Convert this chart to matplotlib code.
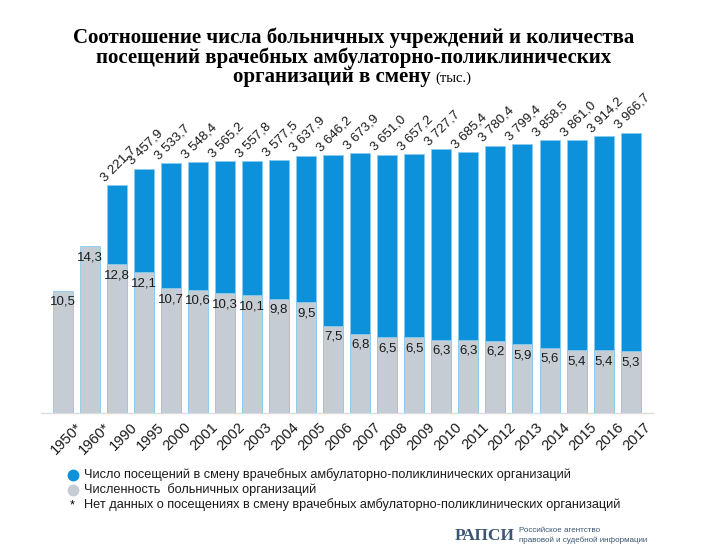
import numpy as np
import matplotlib
matplotlib.use('Agg')
import matplotlib.pyplot as plt
import matplotlib.transforms as mtransforms
from matplotlib.lines import Line2D

years = ['1950*', '1960*', '1990', '1995', '2000', '2001', '2002', '2003', '2004', '2005',
         '2006', '2007', '2008', '2009', '2010', '2011', '2012', '2013', '2014', '2015',
         '2016', '2017']
# посещения в смену, тыс. (для 1950 и 1960 данных нет)
visits = [None, None, 3221.7, 3457.9, 3533.7, 3548.4, 3565.2, 3557.8, 3577.5, 3637.9,
          3646.2, 3673.9, 3651.0, 3657.2, 3727.7, 3685.4, 3780.4, 3799.4, 3858.5, 3861.0,
          3914.2, 3966.7]
# больничные организации, тыс.
hospitals = [10.5, 14.3, 12.8, 12.1, 10.7, 10.6, 10.3, 10.1, 9.8, 9.5, 7.5, 6.8, 6.5, 6.5,
             6.3, 6.3, 6.2, 5.9, 5.6, 5.4, 5.4, 5.3]

blue = '#0e91db'
grey = '#c5ccd4'
edge = '#8ccbf0'
logo = '#3a5675'

plt.rcParams['font.family'] = ['Liberation Sans', 'DejaVu Sans']

fig = plt.figure(figsize=(7.08, 5.57), dpi=100)
ax = fig.add_axes([0.0575, 0.2585, 0.865, 293 / 557])
ax2 = ax.twinx()

x = np.arange(len(years))
w = 0.74

vx = [i for i in x if visits[i] is not None]
vy = [visits[i] for i in vx]
ax.bar(vx, vy, width=w, color=blue, edgecolor=edge, linewidth=0.6)
ax2.bar(x, hospitals, width=w, color=grey, edgecolor=edge, linewidth=0.6)

ax.set_xlim(-0.81, 21.83)
ax.set_ylim(0, 293 / 0.0707)
ax2.set_ylim(0, 293 / 11.65)

for a in (ax, ax2):
    for s in a.spines.values():
        s.set_visible(False)
    a.set_yticks([])
ax.spines['bottom'].set_visible(True)
ax.spines['bottom'].set_color('#dcdcdc')
ax.spines['bottom'].set_linewidth(1.0)

ax.set_xticks(x)
ax.set_xticklabels(years, rotation=45, ha='right', va='top', rotation_mode='anchor',
                   fontsize=10.5, color='#1a1a1a')
ax.tick_params(axis='x', length=0, pad=5)
off = mtransforms.ScaledTranslation(0.13, 0, fig.dpi_scale_trans)
for lab in ax.get_xticklabels():
    lab.set_transform(lab.get_transform() + off)

# подписи значений
for i, v in zip(vx, vy):
    s = f'{v:,.1f}'.replace(',', ' ').replace('.', ',')
    ax.annotate(s, (i - w / 2, v), xytext=(0, 1), textcoords='offset points',
                rotation=45, rotation_mode='anchor', ha='left', va='bottom',
                fontsize=9.5, color='#1a1a1a')
for i, v in enumerate(hospitals):
    s = f'{v:.1f}'.replace('.', ',')
    ax2.annotate(s, (i, v), xytext=(0, -8), textcoords='offset points',
                 ha='center', va='center', fontsize=9.5, color='#1a1a1a')

# заголовок
fig.text(0.5, 1 - 38 / 557, 'Соотношение числа больничных учреждений и количества',
         ha='center', va='center', fontsize=15, fontweight='bold', family='Liberation Serif')
fig.text(0.5, 1 - 58 / 557, 'посещений врачебных амбулаторно-поликлинических',
         ha='center', va='center', fontsize=15, fontweight='bold', family='Liberation Serif')
fig.text(431 / 708, 1 - 77 / 557, 'организаций в смену',
         ha='right', va='center', fontsize=15, fontweight='bold', family='Liberation Serif')
fig.text(435 / 708, 1 - 78 / 557, '(тыс.)',
         ha='left', va='center', fontsize=10.5, family='Liberation Serif')

# легенда
fig.lines.append(Line2D([73 / 708], [1 - 475 / 557], marker='o', markersize=7.5,
                        color=blue, transform=fig.transFigure))
fig.lines.append(Line2D([73 / 708], [1 - 490 / 557], marker='o', markersize=7.5,
                        color=grey, transform=fig.transFigure))
fig.text(72 / 708, 1 - 505 / 557, '*', ha='center', va='center', fontsize=9)
fig.text(84 / 708, 1 - 475 / 557,
         'Число посещений в смену врачебных амбулаторно-поликлинических организаций',
         ha='left', va='center', fontsize=9.2, color='#1a1a1a')
fig.text(84 / 708, 1 - 490 / 557, 'Численность  больничных организаций',
         ha='left', va='center', fontsize=9.2, color='#1a1a1a')
fig.text(84 / 708, 1 - 505 / 557,
         'Нет данных о посещениях в смену врачебных амбулаторно-поликлинических организаций',
         ha='left', va='center', fontsize=9.2, color='#1a1a1a')

# логотип
fig.text(455 / 708, 1 - 536 / 557, 'РАПСИ', ha='left', va='center', fontsize=12.5,
         fontweight='bold', family='Liberation Serif', color=logo)
fig.text(519 / 708, 1 - 531 / 557, 'Российское агентство', ha='left', va='center',
         fontsize=5.8, color=logo)
fig.text(519 / 708, 1 - 540 / 557, 'правовой и судебной информации', ha='left',
         va='center', fontsize=5.8, color=logo)

fig.savefig('out.png', dpi=100)
